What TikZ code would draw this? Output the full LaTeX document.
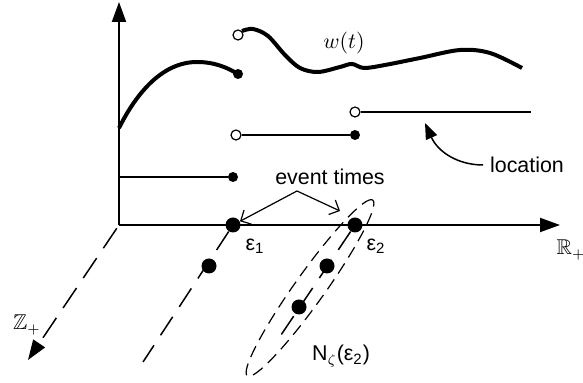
\documentclass[tikz,border=0pt]{standalone}
\usepackage{amsmath,amssymb}
\usepackage{fontspec}
\setmainfont{Liberation Sans}
\usepackage{tikz}
\usetikzlibrary{arrows.meta,shapes.geometric}

\begin{document}
\begin{tikzpicture}[x=0.5pt,y=-0.5pt,
    font=\fontsize{10.7}{13}\selectfont,
    axis/.style={line width=1pt,-{Triangle[length=10pt,width=7pt]}},
    zaxis/.style={line width=0.75pt,dash pattern=on 12pt off 6pt,
                  -{Triangle[length=10pt,width=7pt]}},
    fiber/.style={line width=0.75pt,dash pattern=on 11pt off 6pt},
    bigdot/.style={circle,fill,inner sep=0pt,minimum size=7.5pt},
    enddot/.style={circle,fill,inner sep=0pt,minimum size=5pt},
    opendot/.style={circle,draw,fill=white,line width=0.6pt,inner sep=0pt,minimum size=5pt},
    lvl/.style={line width=0.9pt},
    wcurve/.style={line width=2pt},
    pointer/.style={line width=0.6pt,-{Straight Barb[length=4pt,width=8pt]}}]
  \useasboundingbox (0,0) rectangle (583,383);

  % axes
  \coordinate (O) at (119,225);
  \coordinate (ytip) at (119,2);
  \coordinate (xtip) at (560,225);
  \coordinate (ztip) at (28,360);
  \draw[axis] (O) -- (ytip);
  \draw[axis] (O) -- (xtip);
  \draw[zaxis,shorten <=2pt] (O) -- (ztip);
  \node (R) at (571,250) {$\mathbb{R}_+$};
  \node (Z) at (27,325) {$\mathbb{Z}_+$};

  % location levels
  \coordinate (a0) at (119,177);
  \node[enddot] (a1) at (233,177) {};
  \node[opendot] (b0) at (236,135) {};
  \node[enddot] (b1) at (355,135) {};
  \node[opendot] (c0) at (355,112) {};
  \coordinate (c1) at (531,112);
  \draw[lvl] (a0) -- (a1);
  \draw[lvl] (b0) -- (b1);
  \draw[lvl] (c0) -- (c1);

  % the path w(t)
  \draw[wcurve] (119,128) .. controls (137,92) and (163,62) .. (197,62)
                .. controls (215,62) and (228,68) .. (238,74);
  \draw[wcurve] plot[smooth,tension=0.55] coordinates {(242,31) (253,29) (268,36) (285,55)
    (300,68) (318,72) (340,67) (352,64) (364,68) (385,65) (420,58) (460,50) (490,53) (522,68)};
  \node[enddot] (wa) at (238,74) {};
  \node[opendot] (wb) at (238,35) {};
  \node (w) at (344,43) {$w(t)$};

  % location pointer
  \node (loc) at (527,165) {location};
  \coordinate (loctip) at (425,123);
  \draw[line width=0.75pt,-{Triangle[length=8pt,width=6pt]}]
    (loc.west) .. controls (458,165) and (438,152) .. (loctip);

  % event times
  \node[bigdot] (e1) at (233,225) {};
  \node[bigdot] (e2) at (355,225) {};
  \node[bigdot] (d1) at (209,266) {};
  \node[bigdot] (d2) at (327,266) {};
  \node[bigdot] (d3) at (299,307) {};
  \coordinate (f1) at (143,362);
  \coordinate (f2) at (281,335);
  \draw[fiber] (e1) -- (f1);
  \draw[fiber] (e2) -- (f2);
  \node[draw,ellipse,rotate=54.5,line width=0.6pt,dash pattern=on 6pt off 3.5pt,
        minimum width=108pt,minimum height=15pt] (nbhd) at (310,288) {};
  \node (e1lab) at (255,246) {ε\textsubscript{1}};
  \node (e2lab) at (376,246) {ε\textsubscript{2}};
  \node (nlab) at (341,356) {N$_\zeta$(ε\textsubscript{2})};

  \node (evt) at (330,177) {event times};
  \coordinate (evtpk) at (297,191);
  \coordinate (e2tip) at (340,211);
  \draw[pointer] (evtpk) -- (e1);
  \draw[pointer] (evtpk) -- (e2tip);
\end{tikzpicture}
\end{document}
